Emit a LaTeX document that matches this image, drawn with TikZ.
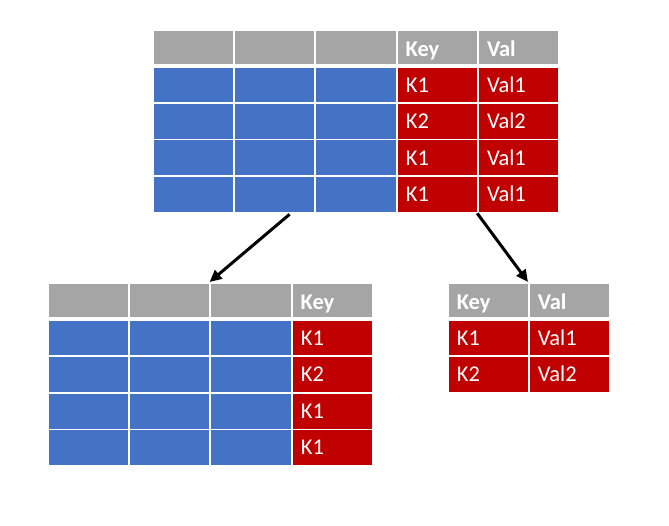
\documentclass[tikz,border=0pt]{standalone}
\usepackage{fontspec}
\setmainfont{Carlito}
\usetikzlibrary{arrows.meta,calc}
\definecolor{hdrgray}{HTML}{A5A5A5}
\definecolor{cellblue}{HTML}{4472C4}
\definecolor{cellred}{HTML}{C00000}
\tikzset{
  cellbase/.style={rectangle, anchor=north west, draw=white, line width=1.6pt,
    inner xsep=9pt, inner ysep=0pt, text width=63pt, align=left, text=white,
    text height=14.5pt, text depth=0pt,
    font=\fontsize{22.5}{22.5}\selectfont},
  hdr/.style={cellbase, fill=hdrgray, minimum height=35pt, text height=19pt,
    font=\fontsize{22.5}{22.5}\selectfont\bfseries},
  bluecell/.style={cellbase, fill=cellblue, minimum height=36.5pt},
  redcell/.style={cellbase, fill=cellred, minimum height=36.5pt},
  arr/.style={line width=3pt, -{Triangle[length=12pt,width=11pt]}}
}
\begin{document}
\begin{tikzpicture}[x=1pt,y=-1pt]
\useasboundingbox (0,0) rectangle (669,526);
% top table
\foreach \c/\t in {1/,2/,3/,4/Key,5/Val}
  \node[hdr] (t-h-\c) at ({152+81.3*(\c-1)},29) {\t};
\foreach \r/\k/\v in {1/K1/Val1,2/K2/Val2,3/K1/Val1,4/K1/Val1}{
  \foreach \c in {1,2,3}
    \node[bluecell] (t-\r-\c) at ({152+81.3*(\c-1)},{66+36.4*(\r-1)}) {};
  \node[redcell] (t-\r-4) at (396,{66+36.4*(\r-1)}) {\k};
  \node[redcell] (t-\r-5) at (477.2,{66+36.4*(\r-1)}) {\v};
}
% bottom-left table
\foreach \c/\t in {1/,2/,3/,4/Key}
  \node[hdr] (b-h-\c) at ({47+81.3*(\c-1)},282) {\t};
\foreach \r/\k in {1/K1,2/K2,3/K1,4/K1}{
  \foreach \c in {1,2,3}
    \node[bluecell] (b-\r-\c) at ({47+81.3*(\c-1)},{319+36.5*(\r-1)}) {};
  \node[redcell] (b-\r-4) at (291,{319+36.5*(\r-1)}) {\k};
}
% bottom-right table
\node[hdr] (r-h-1) at (447,282) {Key};
\node[hdr] (r-h-2) at (528,282) {Val};
\foreach \r/\k/\v in {1/K1/Val1,2/K2/Val2}{
  \node[redcell] (r-\r-1) at (447,{319+36.5*(\r-1)}) {\k};
  \node[redcell] (r-\r-2) at (528,{319+36.5*(\r-1)}) {\v};
}
% arrows
\coordinate (s1) at ($(t-4-3.south west)+(-25,1)$);
\draw[arr] (s1) -- (b-h-3.north west);
\draw[arr] (t-4-5.south west) -- (r-h-2.north west);
\end{tikzpicture}
\end{document}
